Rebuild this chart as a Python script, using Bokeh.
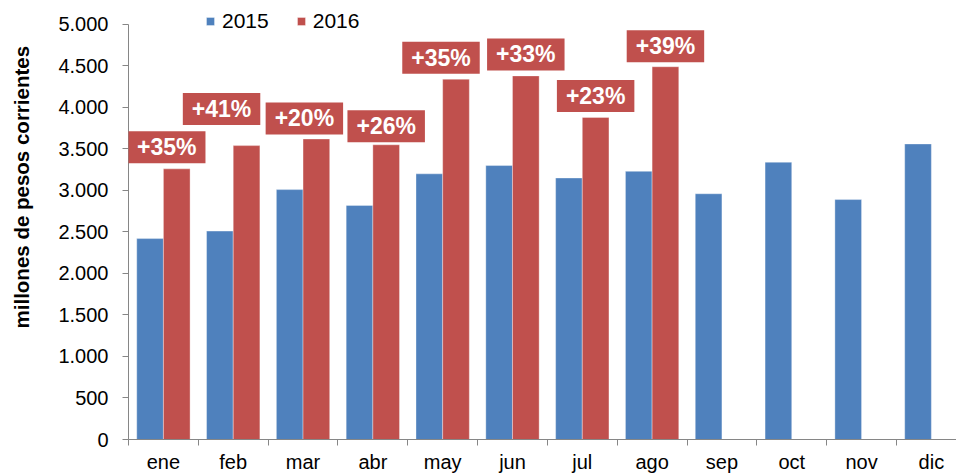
import math
from bokeh.plotting import figure
from bokeh.layouts import row
from bokeh.models import Range1d, FixedTicker, Label
from bokeh.embed import file_html
from bokeh.resources import INLINE

# ---- data ----
months = ["ene", "feb", "mar", "abr", "may", "jun", "jul", "ago", "sep", "oct", "nov", "dic"]
v2015 = [2420, 2510, 3010, 2820, 3200, 3300, 3150, 3230, 2960, 3340, 2890, 3560]
v2016 = [3260, 3540, 3620, 3550, 4340, 4380, 3880, 4490]
growth_labels = ["+35%", "+41%", "+20%", "+26%", "+35%", "+33%", "+23%", "+39%"]
y_ticks = [0, 500, 1000, 1500, 2000, 2500, 3000, 3500, 4000, 4500, 5000]
y_tick_labels = ["0", "500", "1.000", "1.500", "2.000", "2.500", "3.000", "3.500", "4.000", "4.500", "5.000"]
y_title = "millones de pesos corrientes"

# ---- layout of callout boxes (pixel offsets) ----
label_dx = [-10, -25, -12, 0, -15, 0, 0, 0]
label_gap = [6, 21, 5, 3, 6, 6, 6, 5]

BLUE = "#4F81BD"
RED = "#C0504D"
AXIS = "#868686"
FONT = "Liberation Sans"
H = 475
LEFT_W = 40

n = len(months)
centers = [i + 0.5 for i in range(n)]
half = 0.191
x15 = [c - half for c in centers]
x16 = [centers[i] + half for i in range(len(v2016))]

# ---- narrow strip holding the rotated y-axis title ----
t = figure(width=LEFT_W, height=H, x_range=Range1d(0, LEFT_W), y_range=Range1d(0, H),
           output_backend="svg", toolbar_location=None,
           x_axis_location=None, y_axis_location=None,
           min_border=0, min_border_left=0, min_border_right=0,
           min_border_top=0, min_border_bottom=0)
t.outline_line_color = None
t.xgrid.visible = False
t.ygrid.visible = False
t.add_layout(Label(x=21, y=H - 202, text=y_title, angle=math.pi / 2,
                   text_align="center", text_baseline="middle",
                   text_font=FONT, text_font_style="bold", text_font_size="20.5px",
                   text_color="black"))

# ---- main chart ----
# frame reaches the top of the canvas so the legend is not clipped;
# the y axis line is bounded to 0..5000
p = figure(width=956 - LEFT_W, height=H,
           x_range=Range1d(0, 11.86), y_range=Range1d(0, 5288),
           output_backend="svg", toolbar_location=None,
           min_border_left=128 - LEFT_W, min_border_right=0,
           min_border_top=0, min_border_bottom=34)
p.outline_line_color = None
p.xgrid.visible = False
p.ygrid.visible = False

p.vbar(x=x15, top=v2015, width=0.382, fill_color=BLUE,
       line_color="white", line_alpha=0.35, legend_label="2015")
p.vbar(x=x16, top=v2016, width=0.382, fill_color=RED,
       line_color="white", line_alpha=0.35, legend_label="2016")

# x axis: labels at centres, tick marks at category boundaries
xa = p.xaxis[0]
xa.ticker = FixedTicker(ticks=centers, minor_ticks=list(range(n + 1)))
xa.major_label_overrides = {c: m for c, m in zip(centers, months)}
xa.major_tick_line_color = None
xa.minor_tick_line_color = AXIS
xa.minor_tick_out = 6
xa.minor_tick_in = 0
xa.axis_line_color = AXIS
xa.major_label_text_font = FONT
xa.major_label_text_font_size = "20px"
xa.major_label_text_color = "black"
xa.major_label_standoff = 5

ya = p.yaxis[0]
ya.ticker = FixedTicker(ticks=y_ticks, minor_ticks=[])
ya.major_label_overrides = {t_: l for t_, l in zip(y_ticks, y_tick_labels)}
ya.bounds = (y_ticks[0], y_ticks[-1])
ya.major_tick_out = 6
ya.major_tick_in = 0
ya.major_tick_line_color = AXIS
ya.minor_tick_line_color = None
ya.axis_line_color = AXIS
ya.major_label_text_font = FONT
ya.major_label_text_font_size = "20px"
ya.major_label_text_color = "black"
ya.major_label_standoff = 14

for i, g in enumerate(growth_labels):
    p.add_layout(Label(x=x16[i], y=v2016[i], x_offset=label_dx[i],
                       y_offset=label_gap[i] + 15.5, text=g,
                       text_align="center", text_baseline="middle",
                       text_color="white", text_font=FONT, text_font_style="bold",
                       text_font_size="23px", background_fill_color=RED,
                       padding=(9, 3)))

leg = p.legend[0]
leg.orientation = "horizontal"
leg.location = (77, 406)
leg.glyph_width = 10
leg.glyph_height = 10
leg.label_standoff = 7
leg.spacing = 27
leg.padding = 0
leg.margin = 0
leg.border_line_color = None
leg.background_fill_alpha = 0
leg.label_text_font = FONT
leg.label_text_font_size = "21px"
leg.label_text_color = "black"

layout = row(t, p, spacing=0)
open("out.html", "w").write(file_html(layout, INLINE))
